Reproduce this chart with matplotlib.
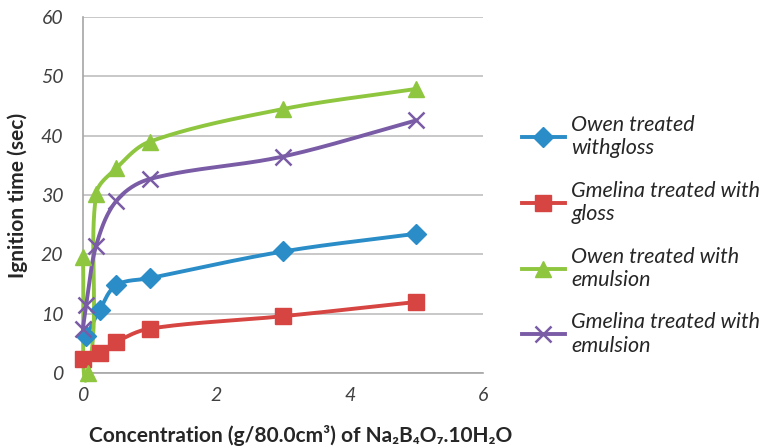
import numpy as np
import matplotlib
matplotlib.use("Agg")
import matplotlib.pyplot as plt
from matplotlib.lines import Line2D

# ---- data ----
owen_gloss_x = [0.05, 0.25, 0.5, 1, 3, 5]
owen_gloss_y = [6.2, 10.6, 14.8, 16.0, 20.5, 23.5]

gmelina_gloss_x = [0, 0.25, 0.5, 1, 3, 5]
gmelina_gloss_y = [2.4, 3.4, 5.3, 7.5, 9.6, 12.0]

owen_emul_x = [0, 0.08, 0.2, 0.5, 1, 3, 5]
owen_emul_y = [19.6, 0.0, 30.2, 34.5, 39.0, 44.5, 47.9]

gmelina_emul_x = [0, 0.05, 0.2, 0.5, 1, 3, 5]
gmelina_emul_y = [7.5, 11.5, 21.5, 29.0, 32.7, 36.5, 42.6]

labels = ["Owen treated\nwithgloss", "Gmelina treated with\ngloss",
          "Owen treated with\nemulsion", "Gmelina treated with\nemulsion"]
colors = ["#2a8dc8", "#d64541", "#8fc63f", "#7a5ca6"]
markers = ["D", "s", "^", "x"]

x_ticks = [0, 2, 4, 6]
y_ticks = [0, 10, 20, 30, 40, 50, 60]


def smooth_display(ax, xs, ys, n=40):
    """Smoothed line through the points, computed in display space (Excel-like)."""
    trans = ax.transData
    p = trans.transform(np.column_stack([xs, ys]).astype(float))
    m = len(p)
    tang = np.zeros_like(p)
    for i in range(m):
        a = p[max(i - 1, 0)]
        b = p[min(i + 1, m - 1)]
        d = b - a
        L = np.hypot(*d)
        tang[i] = d / L if L > 0 else 0
    out = []
    t = np.linspace(0, 1, n)[:, None]
    for i in range(m - 1):
        p1, p2 = p[i], p[i + 1]
        L = np.hypot(*(p2 - p1))
        c1 = p1 + tang[i] * L / 3.0
        c2 = p2 - tang[i + 1] * L / 3.0
        seg = ((1 - t) ** 3) * p1 + 3 * ((1 - t) ** 2) * t * c1 + 3 * (1 - t) * t ** 2 * c2 + t ** 3 * p2
        out.append(seg if i == 0 else seg[1:])
    out = np.vstack(out)
    d = trans.inverted().transform(out)
    return d[:, 0], d[:, 1]


plt.rcParams['font.family'] = ['Lato', 'DejaVu Sans']

fig = plt.figure(figsize=(7.67, 4.48), dpi=100)
ax = fig.add_axes([0.108, 0.167, 0.522, 0.795])
ax.set_xlim(0, 6)
ax.set_ylim(0, 60)

series = [(owen_gloss_x, owen_gloss_y), (gmelina_gloss_x, gmelina_gloss_y),
          (owen_emul_x, owen_emul_y), (gmelina_emul_x, gmelina_emul_y)]

LW = 2.8
handles = []
for (xs, ys), lab, c, m in zip(series, labels, colors, markers):
    sx, sy = smooth_display(ax, xs, ys)
    ax.plot(sx, sy, color=c, lw=LW, zorder=3, solid_capstyle='round', clip_on=False)
    if m == 'x':
        kw = dict(ms=12, mew=1.8)
    elif m == 'D':
        kw = dict(ms=10, mew=1)
    else:
        kw = dict(ms=11, mew=1)
    ax.plot(xs, ys, ls='none', marker=m, color=c, mec=c, zorder=4, clip_on=False, **kw)
    handles.append(Line2D([0], [0], color=c, lw=LW, marker=m, mec=c, label=lab, **kw))

ax.set_xticks(x_ticks)
ax.set_yticks(y_ticks)
ax.grid(axis='y', color='#bfbfbf', lw=1.2)
ax.set_axisbelow(True)
for s in ['top', 'right']:
    ax.spines[s].set_visible(False)
for s in ['left', 'bottom']:
    ax.spines[s].set_color('#a6a6a6')
    ax.spines[s].set_linewidth(1.2)
ax.tick_params(axis='both', length=0, labelsize=14, colors='#404040')
ax.tick_params(axis='y', pad=14)
ax.tick_params(axis='x', pad=10)
for lbl in ax.get_xticklabels() + ax.get_yticklabels():
    lbl.set_style('italic')

ax.set_ylabel("Ignition time (sec)", fontsize=15, fontweight='bold', color='#262626')
ax.yaxis.set_label_coords(-0.138, 0.5)
ax.set_xlabel("Concentration (g/80.0cm³) of Na₂B₄O₇.10H₂O", fontsize=15, fontweight='bold',
              color='#262626')
ax.xaxis.set_label_coords(0.545, -0.175)
ax.xaxis.label.set_va('center')

leg = fig.legend(handles=handles, loc='center left', bbox_to_anchor=(0.655, 0.475),
                 frameon=False, handlelength=2.0, labelspacing=1.05,
                 handletextpad=0.3, prop={'style': 'italic', 'size': 15.5})
for t in leg.get_texts():
    t.set_color('#262626')
    t.set_linespacing(1.2)

fig.savefig("out.png", dpi=100)
